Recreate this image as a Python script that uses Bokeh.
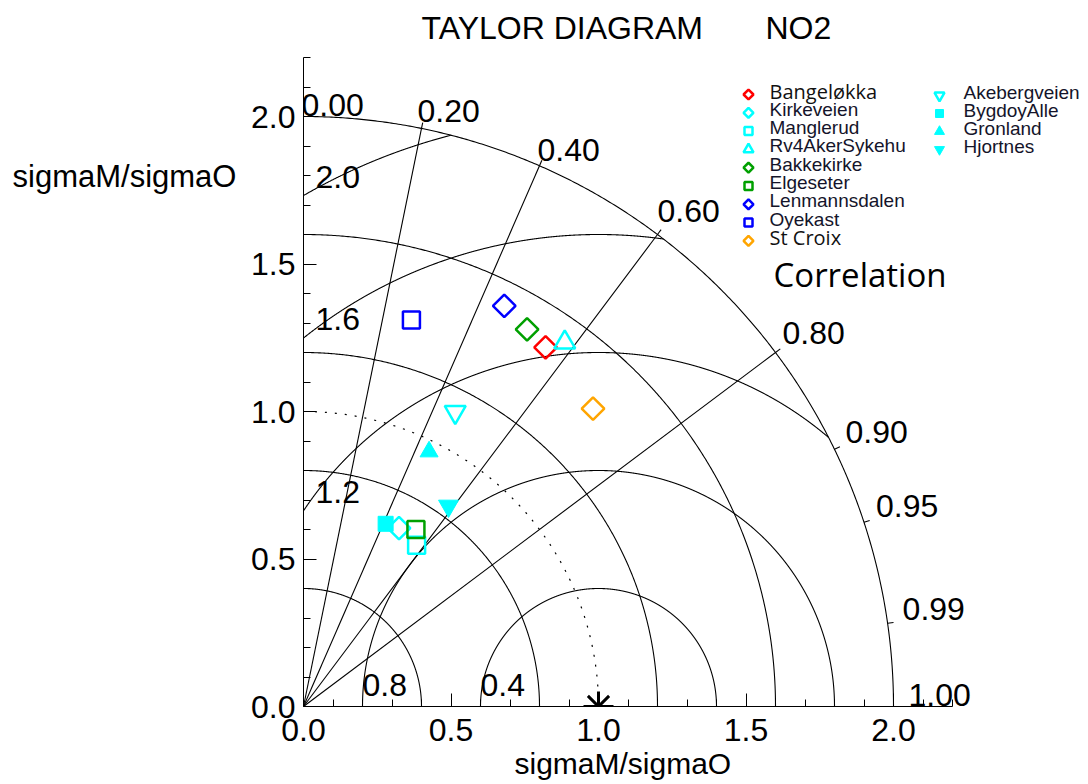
import numpy as np
from bokeh.plotting import figure
from bokeh.layouts import row
from bokeh.models import (Range1d, FixedTicker, ColumnDataSource, Label, Title,
                          PrintfTickFormatter)
from bokeh.embed import file_html
from bokeh.resources import INLINE

# ---------------- data ----------------
stations = ["Bangeløkka", "Kirkeveien", "Manglerud", "Rv4AkerSykehu", "Bakkekirke",
            "Elgeseter", "Lenmannsdalen", "Oyekast", "St Croix",
            "Akebergveien", "BygdoyAlle", "Gronland", "Hjortnes"]
sigma_ratio = [1.468, 0.686, 0.668, 1.519, 1.486, 0.711, 1.519, 1.360, 1.408,
               1.123, 0.679, 0.963, 0.839]
correlation = [0.559, 0.472, 0.574, 0.583, 0.510, 0.536, 0.448, 0.269, 0.697,
               0.458, 0.410, 0.442, 0.586]
ref_sigma = 1.0

std_arcs = [0.4, 0.8, 1.2, 1.6, 2.0]
rms_arcs = [0.4, 0.8, 1.2, 1.6, 2.0]
rms_labels = ["0.4", "0.8", "1.2", "1.6", "2.0"]
corr_lines = [0.2, 0.4, 0.6, 0.8]
corr_ticks = [0.0, 0.2, 0.4, 0.6, 0.8, 0.9, 0.95, 0.99, 1.0]
corr_tick_labels = ["0.00", "0.20", "0.40", "0.60", "0.80", "0.90", "0.95", "0.99", "1.00"]
axis_ticks = [0.0, 0.5, 1.0, 1.5, 2.0]
axis_minor_ticks = [0.1, 0.2, 0.3, 0.4, 0.6, 0.7, 0.8, 0.9, 1.1, 1.2, 1.3, 1.4,
                    1.6, 1.7, 1.8, 1.9, 2.1, 2.2]
x_title = "sigmaM/sigmaO"
y_title = "sigmaM/sigmaO"

# ---------------- styles ----------------
colors = ["#ff0000", "#00ffff", "#00ffff", "#00ffff", "#00a000", "#00a000", "#0000ff",
          "#0000ff", "#ffa500", "#00ffff", "#00ffff", "#00ffff", "#00ffff"]
shapes = ["diamond", "diamond", "square", "triangle", "diamond", "square", "diamond",
          "square", "diamond", "inverted_triangle", "square", "triangle", "inverted_triangle"]
filled = [False] * 10 + [True, True, True]
legend_fonts = ["Open Sans"] + ["Liberation Sans"] * 7 + ["Open Sans"] + ["Liberation Sans"] * 4

PX = 295.0              # pixels per unit
X0, Y0 = 303.0, 706.0   # position of the origin in the picture
W, H = 1088, 784
LW = 240                # width of the strip holding the y title
MW, MH = W - LW, H
BL = int(X0) - LW
BB = MH - int(Y0)


def dxp(px):
    return (px - X0) / PX


def dyp(py):
    return (Y0 - py) / PX


p = figure(width=MW, height=MH, output_backend="svg", toolbar_location=None,
           x_range=Range1d(0, (MW - BL) / PX), y_range=Range1d(0, (MH - BB) / PX),
           min_border_left=BL, min_border_bottom=BB, min_border_top=0, min_border_right=0)
p.outline_line_color = None
p.grid.visible = False
p.background_fill_color = "white"
p.border_fill_color = "white"

for ax in (p.xaxis[0], p.yaxis[0]):
    ax.ticker = FixedTicker(ticks=axis_ticks, minor_ticks=axis_minor_ticks)
    ax.formatter = PrintfTickFormatter(format="%.1f")
    ax.bounds = (0, 2.2)
    ax.axis_line_color = "black"
    ax.axis_line_width = 1
    ax.major_tick_in = 13
    ax.major_tick_out = 0
    ax.minor_tick_in = 7
    ax.minor_tick_out = 0
    ax.major_tick_line_color = "black"
    ax.minor_tick_line_color = "black"
    ax.major_label_text_font = "Liberation Sans"
    ax.major_label_text_font_size = "32px"
    ax.major_label_text_color = "black"

p.xaxis[0].major_label_standoff = 12
p.yaxis[0].major_label_standoff = 8

# x title below the axis, shifted to the middle of the axis extent
p.add_layout(Title(text=x_title, align="left", offset=514 - X0, standoff=3,
                   text_font="Liberation Sans", text_font_size="30px",
                   text_font_style="normal", text_color="black"), "below")

# ---------------- grid arcs ----------------
th = np.linspace(0, np.pi / 2, 400)
p.multi_line([list(r * np.cos(th)) for r in std_arcs], [list(r * np.sin(th)) for r in std_arcs],
             line_color="black", line_width=1.1)
p.line(ref_sigma * np.cos(th), ref_sigma * np.sin(th), line_color="black", line_width=1.2,
       line_dash="2 8")

ph = np.linspace(0, np.pi, 4000)
rx, ry = [], []
for r in rms_arcs:
    x = ref_sigma + r * np.cos(ph)
    y = r * np.sin(ph)
    m = (x >= 0) & (x * x + y * y <= 4.0)
    rx.append(list(x[m]))
    ry.append(list(y[m]))
p.multi_line(rx, ry, line_color="black", line_width=1.1)

R = max(std_arcs)
lx, ly = [], []
for c in corr_lines:
    s = np.sqrt(1 - c * c)
    lx.append([0, R * c])
    ly.append([0, R * s])
tick_len = 6 / PX
for c in corr_ticks:
    s = np.sqrt(1 - c * c)
    lx.append([R * c, (R + tick_len) * c])
    ly.append([R * s, (R + tick_len) * s])
p.multi_line(lx, ly, line_color="black", line_width=1.1)


def add_text(fig, x, y, text, font="Liberation Sans", size="32px", color="black"):
    fig.add_layout(Label(x=x, y=y, text=text, text_font=font, text_font_size=size,
                         text_align="left", text_baseline="middle", text_color=color))


# correlation labels: pixel offsets of text left edge / cap centre from the arc point
lab_off = [(-2, 12), (-4, 17), (-2, 16), (0, 24), (7, 20), (11, 17), (12, 16), (15, 14), (15, 12)]
for c, t, (ox, oy) in zip(corr_ticks, corr_tick_labels, lab_off):
    s = np.sqrt(1 - c * c)
    add_text(p, R * c + ox / PX, R * s + oy / PX, t)

# RMS labels
for r, t in zip(rms_arcs, rms_labels):
    if r < ref_sigma:
        lxp, lyp = ref_sigma - r, 22 / PX
    else:
        lxp, lyp = 12 / PX, np.sqrt(r * r - ref_sigma ** 2) + 19 / PX
    add_text(p, lxp, lyp, t)

add_text(p, dxp(773), dyp(274), "Correlation", font="Open Sans", size="33px")

# title
add_text(p, dxp(421), dyp(27.5), "TAYLOR DIAGRAM")
add_text(p, dxp(765), dyp(27.5), "NO2")

# ---------------- points ----------------
plot_size = {"diamond": 16, "square": 17, "triangle": 21, "inverted_triangle": 21}
plot_size_filled = {"square": 15, "triangle": 18, "inverted_triangle": 20}
leg_size = {"diamond": 7, "square": 8, "triangle": 10, "inverted_triangle": 10}

sig = np.array(sigma_ratio)
cor = np.array(correlation)
px_ = sig * cor
py_ = sig * np.sqrt(1 - cor ** 2)

rows1 = 9
for i, name in enumerate(stations):
    shp = shapes[i]
    mk = "square" if shp == "diamond" else shp
    ang = np.pi / 4 if shp == "diamond" else 0.0
    if filled[i]:
        size = plot_size_filled[shp]
        fill, lw = colors[i], 1
    else:
        size = plot_size[shp]
        fill, lw = None, 2.5
    src = ColumnDataSource(dict(x=[px_[i]], y=[py_[i]]))
    p.scatter("x", "y", source=src, marker=mk, size=size, angle=ang,
              line_color=colors[i], fill_color=fill, line_width=lw)

    # legend entry
    if i < rows1:
        mx, tx, cy = 748, 769, 90.5 + 18.3 * i
    else:
        mx, tx, cy = 939, 963, 91.5 + 18.0 * (i - rows1)
    lsrc = ColumnDataSource(dict(x=[dxp(mx)], y=[dyp(cy + 3.5)]))
    p.scatter("x", "y", source=lsrc, marker=mk, size=leg_size[shp], angle=ang,
              line_color=colors[i], fill_color=colors[i] if filled[i] else None,
              line_width=2.5 if not filled[i] else 1)
    is_open = legend_fonts[i] == "Open Sans"
    add_text(p, dxp(tx), dyp(cy), name, font=legend_fonts[i],
             size="20px" if is_open else "19px",
             color="#111111" if is_open else "#14142a")

# reference point
p.scatter([ref_sigma], [0.0], marker="asterisk", size=30, line_color="black", line_width=3)

# ---------------- y title in its own strip ----------------
left = figure(width=LW, height=H, output_backend="svg", toolbar_location=None,
              x_range=Range1d(0, LW), y_range=Range1d(0, H), x_axis_type=None,
              y_axis_type=None, min_border=0)
left.outline_line_color = None
left.grid.visible = False
add_text(left, 12, H - 195, y_title, size="31px")

layout = row(left, p)
open("out.html", "w").write(file_html(layout, INLINE))
